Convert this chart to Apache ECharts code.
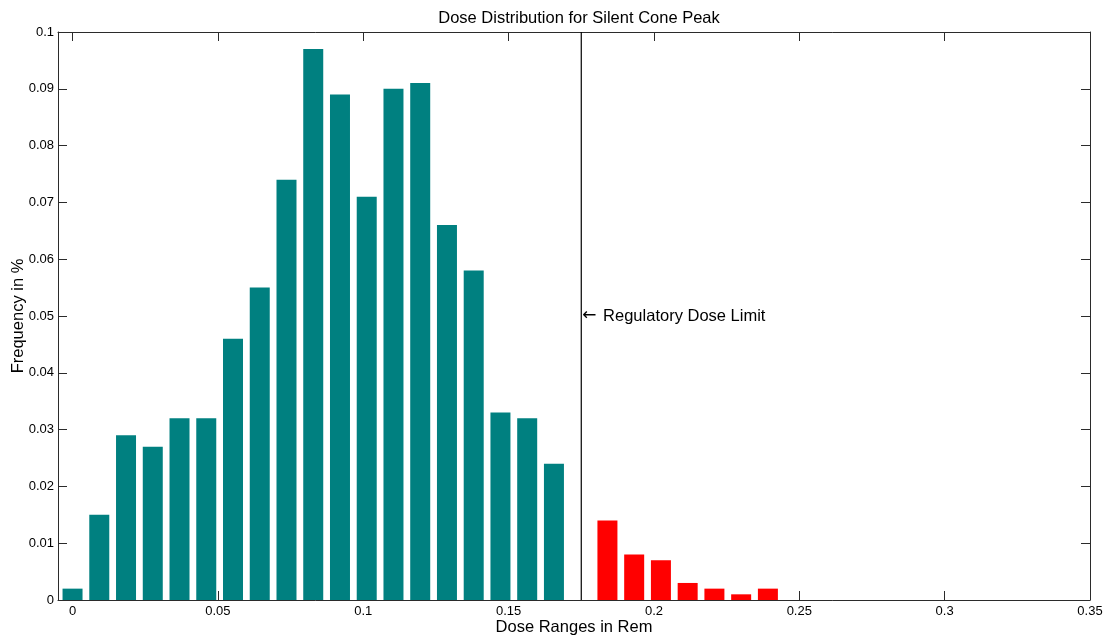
<!DOCTYPE html>
<html>
<head>
<meta charset="utf-8">
<title>Dose Distribution for Silent Cone Peak</title>
<script src="https://cdn.jsdelivr.net/npm/echarts@6/dist/echarts.min.js"></script>
<style>
  html, body { margin: 0; padding: 0; background: #fff; }
  #chart { width: 1106px; height: 639px; }
</style>
</head>
<body>
<div id="chart"></div>
<script>
// Histogram bin centres (Rem) and relative frequencies.
// Bins below the regulatory limit:
const safeCenters = [0, 0.0092, 0.0184, 0.0276, 0.0368, 0.0460, 0.0552, 0.0644, 0.0736,
                     0.0828, 0.0920, 0.1012, 0.1104, 0.1196, 0.1288, 0.1380, 0.1472,
                     0.1564, 0.1656];
const safeFreq = [0.002, 0.015, 0.029, 0.027, 0.032, 0.032, 0.046, 0.055, 0.074,
                  0.097, 0.089, 0.071, 0.090, 0.091, 0.066, 0.058, 0.033,
                  0.032, 0.024];
// Bins above the regulatory limit:
const overCenters = [0.1840, 0.1932, 0.2024, 0.2116, 0.2208, 0.2300, 0.2392];
const overFreq = [0.014, 0.008, 0.007, 0.003, 0.002, 0.001, 0.002];

// Regulatory limit (Rem), drawn as a vertical line across the full y range
const doseLimit = 0.175;
const limitLineY = [0, 0.1];
const limitLabelY = 0.05;

const xTickValues = [0, 0.05, 0.1, 0.15, 0.2, 0.25, 0.3, 0.35];
const xTickLabels = ['0', '0.05', '0.1', '0.15', '0.2', '0.25', '0.3', '0.35'];
const yTickValues = [0, 0.01, 0.02, 0.03, 0.04, 0.05, 0.06, 0.07, 0.08, 0.09, 0.1];
const yTickLabels = ['0', '0.01', '0.02', '0.03', '0.04', '0.05', '0.06', '0.07', '0.08', '0.09', '0.1'];

const FONT = '"Liberation Sans", Arial, Helvetica, sans-serif';
const AXIS_COLOR = '#2b2b2b';

function labelFor(values, labels) {
  return function (v) {
    let best = 0;
    for (let i = 1; i < values.length; i++) {
      if (Math.abs(values[i] - v) < Math.abs(values[best] - v)) best = i;
    }
    return labels[best];
  };
}

const pairs = (xs, ys) => xs.map((x, i) => [x, ys[i]]);

const tickStyle = { show: true, inside: true, length: 9, lineStyle: { color: AXIS_COLOR, width: 1 } };
const lineStyle = { show: true, onZero: false, lineStyle: { color: AXIS_COLOR, width: 1 } };

const chart = echarts.init(document.getElementById('chart'), null, { renderer: 'canvas' });

chart.setOption({
  backgroundColor: '#ffffff',
  animation: false,
  title: {
    text: 'Dose Distribution for Silent Cone Peak',
    left: 574,
    top: 5,
    textAlign: 'center',
    textStyle: { fontFamily: FONT, fontSize: 16.5, fontWeight: 'normal', color: '#000' }
  },
  grid: { left: 58, top: 32, right: 16, bottom: 39, containLabel: false, outerBoundsMode: 'none' },
  xAxis: [
    {
      type: 'value',
      position: 'bottom',
      min: -0.005,
      max: 0.35,
      name: 'Dose Ranges in Rem',
      nameLocation: 'middle',
      nameGap: 19,
      nameMoveOverlap: false,
      nameTextStyle: { fontFamily: FONT, fontSize: 16.5, color: '#000' },
      axisLine: lineStyle,
      axisTick: Object.assign({ customValues: xTickValues }, tickStyle),
      axisLabel: {
        customValues: xTickValues,
        formatter: labelFor(xTickValues, xTickLabels),
        fontFamily: FONT, fontSize: 13, color: '#000', margin: 5
      },
      splitLine: { show: false }
    },
    {
      type: 'value',
      position: 'top',
      min: -0.005,
      max: 0.35,
      axisLine: lineStyle,
      axisTick: Object.assign({ customValues: xTickValues }, tickStyle),
      axisLabel: { show: false },
      splitLine: { show: false }
    }
  ],
  yAxis: [
    {
      type: 'value',
      position: 'left',
      min: 0,
      max: 0.1,
      name: 'Frequency in %',
      nameLocation: 'middle',
      nameGap: 31,
      nameMoveOverlap: false,
      nameTextStyle: { fontFamily: FONT, fontSize: 16.5, color: '#000' },
      axisLine: lineStyle,
      axisTick: Object.assign({ customValues: yTickValues }, tickStyle),
      axisLabel: {
        customValues: yTickValues,
        formatter: labelFor(yTickValues, yTickLabels),
        fontFamily: FONT, fontSize: 13, color: '#000', margin: 4
      },
      splitLine: { show: false }
    },
    {
      type: 'value',
      position: 'right',
      min: 0,
      max: 0.1,
      axisLine: lineStyle,
      axisTick: Object.assign({ customValues: yTickValues }, tickStyle),
      axisLabel: { show: false },
      splitLine: { show: false }
    }
  ],
  series: [
    {
      name: 'Below limit',
      type: 'bar',
      xAxisIndex: 0,
      yAxisIndex: 0,
      barWidth: 20,
      barGap: '-100%',
      itemStyle: { color: '#008080' },
      data: pairs(safeCenters, safeFreq)
    },
    {
      name: 'Above limit',
      type: 'bar',
      xAxisIndex: 0,
      yAxisIndex: 0,
      barWidth: 20,
      barGap: '-100%',
      itemStyle: { color: '#ff0000' },
      data: pairs(overCenters, overFreq)
    },
    {
      name: 'Regulatory Dose Limit',
      type: 'line',
      xAxisIndex: 0,
      yAxisIndex: 0,
      silent: true,
      showSymbol: false,
      symbol: 'none',
      lineStyle: { color: '#000', width: 1.2 },
      data: limitLineY.map(y => [doseLimit, y]),
      markPoint: {
        silent: true,
        symbol: 'circle',
        symbolSize: 0,
        label: {
          show: true,
          position: 'right',
          distance: 1,
          formatter: '{arrow|\u2190}{gap|} Regulatory Dose Limit',
          fontFamily: FONT,
          fontSize: 16.5,
          color: '#000',
          rich: {
            arrow: { fontFamily: '"DejaVu Sans", sans-serif', fontSize: 17, color: '#000' },
            gap: { width: 2 }
          }
        },
        data: [{ coord: [doseLimit, limitLabelY] }]
      }
    }
  ]
});
</script>
</body>
</html>
